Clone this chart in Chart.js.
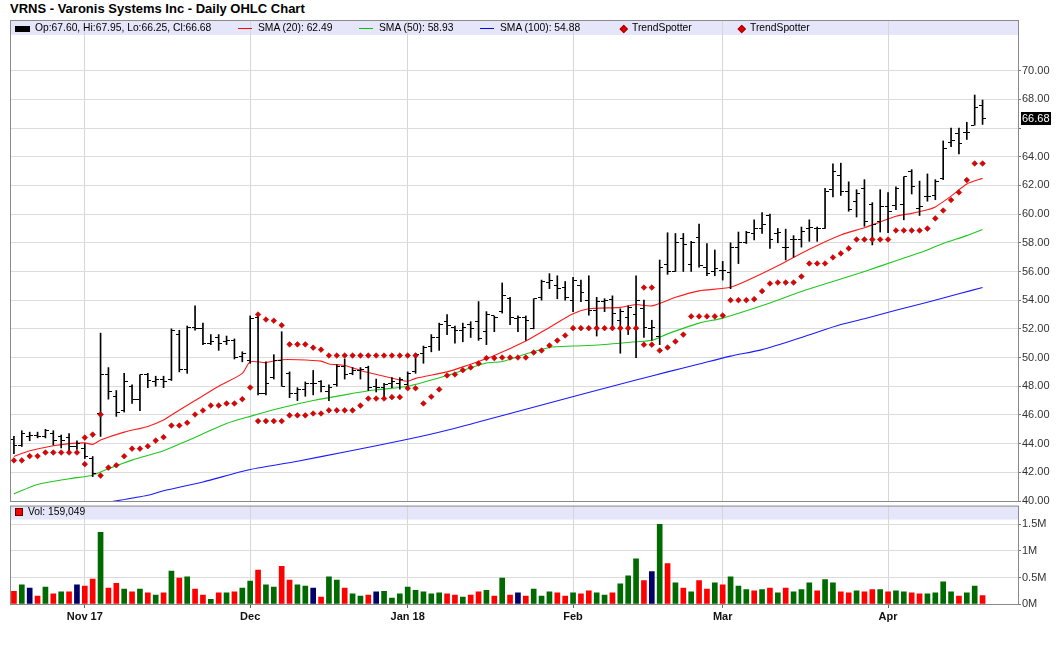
<!DOCTYPE html>
<html><head><meta charset="utf-8">
<script src="https://cdn.jsdelivr.net/npm/chart.js@4.4.1/dist/chart.umd.min.js"></script>
<style>
html,body{margin:0;padding:0;background:#fff;}
body{width:1060px;height:645px;position:relative;overflow:hidden;font-family:"Liberation Sans",Arial,sans-serif;}
#title{position:absolute;left:10px;top:2px;font-weight:bold;font-size:13px;line-height:13px;color:#000;white-space:nowrap;}
canvas{position:absolute;left:0;}
#pc{top:0;}
#vc{top:498px;}
.lg{position:absolute;font-size:10.3px;line-height:10.3px;color:#000;white-space:nowrap;z-index:5;}
.sw{position:absolute;z-index:5;}
</style>
</head><body>
<div id="title">VRNS - Varonis Systems Inc - Daily OHLC Chart</div>
<canvas id="pc" width="1060" height="512"></canvas>
<canvas id="vc" width="1060" height="147"></canvas>

<div class="sw" style="left:15px;top:26px;width:15px;height:6px;background:#000;"></div>
<div class="lg" style="left:35px;top:23px;">Op:67.60, Hi:67.95, Lo:66.25, Cl:66.68</div>
<div class="sw" style="left:238px;top:28px;width:14px;height:1px;background:#ff0000;"></div>
<div class="lg" style="left:258px;top:23px;">SMA (20): 62.49</div>
<div class="sw" style="left:359px;top:28px;width:14px;height:1px;background:#00c000;"></div>
<div class="lg" style="left:379px;top:23px;">SMA (50): 58.93</div>
<div class="sw" style="left:480px;top:28px;width:14px;height:1px;background:#0000ff;"></div>
<div class="lg" style="left:500px;top:23px;">SMA (100): 54.88</div>
<div class="sw" style="left:620.5px;top:26px;width:3.5px;height:3.5px;background:#e00000;border:0.6px solid #a00000;transform:rotate(45deg);"></div>
<div class="lg" style="left:632px;top:23px;">TrendSpotter</div>
<div class="sw" style="left:738.5px;top:26px;width:3.5px;height:3.5px;background:#e00000;border:0.6px solid #a00000;transform:rotate(45deg);"></div>
<div class="lg" style="left:750px;top:23px;">TrendSpotter</div>

<div class="sw" style="left:15px;top:508px;width:6px;height:6px;background:#ff0000;border:1px solid #600000;"></div>
<div class="lg" style="left:28px;top:507px;">Vol: 159,049</div>

<script>
// ---------- DATA ----------
const dates = [
'2017-10-19','2017-10-20','2017-10-23','2017-10-24','2017-10-25','2017-10-26','2017-10-27','2017-10-30','2017-10-31',
'2017-11-01','2017-11-02','2017-11-03','2017-11-06','2017-11-07','2017-11-08','2017-11-09','2017-11-10','2017-11-13','2017-11-14','2017-11-15','2017-11-16','2017-11-17','2017-11-20','2017-11-21','2017-11-22','2017-11-24','2017-11-27','2017-11-28','2017-11-29','2017-11-30',
'2017-12-01','2017-12-04','2017-12-05','2017-12-06','2017-12-07','2017-12-08','2017-12-11','2017-12-12','2017-12-13','2017-12-14','2017-12-15','2017-12-18','2017-12-19','2017-12-20','2017-12-21','2017-12-22','2017-12-26','2017-12-27','2017-12-28','2017-12-29',
'2018-01-02','2018-01-03','2018-01-04','2018-01-05','2018-01-08','2018-01-09','2018-01-10','2018-01-11','2018-01-12','2018-01-16','2018-01-17','2018-01-18','2018-01-19','2018-01-22','2018-01-23','2018-01-24','2018-01-25','2018-01-26','2018-01-29','2018-01-30','2018-01-31',
'2018-02-01','2018-02-02','2018-02-05','2018-02-06','2018-02-07','2018-02-08','2018-02-09','2018-02-12','2018-02-13','2018-02-14','2018-02-15','2018-02-16','2018-02-20','2018-02-21','2018-02-22','2018-02-23','2018-02-26','2018-02-27','2018-02-28',
'2018-03-01','2018-03-02','2018-03-05','2018-03-06','2018-03-07','2018-03-08','2018-03-09','2018-03-12','2018-03-13','2018-03-14','2018-03-15','2018-03-16','2018-03-19','2018-03-20','2018-03-21','2018-03-22','2018-03-23','2018-03-26','2018-03-27','2018-03-28','2018-03-29',
'2018-04-02','2018-04-03','2018-04-04','2018-04-05','2018-04-06','2018-04-09','2018-04-10','2018-04-11','2018-04-12','2018-04-13','2018-04-16','2018-04-17','2018-04-18'
];
const futureDates = ['2018-04-19','2018-04-20','2018-04-23','2018-04-24'];
const tickDates = ['2017-11-01','2017-12-01','2018-01-02','2018-02-01','2018-03-01','2018-04-02'];
const tickTexts = ['Nov 17','Dec','Jan 18','Feb','Mar','Apr'];

const open = [
44.3,43.9,44.5,44.6,44.5,44.7,44.5,44.4,43.8,43.66,
42.96,46.1,48.8,47.3,46.3,48.0,47.1,48.8,48.3,48.5,
48.5,51.6,49.2,52.1,52.0,51.0,51.4,51.1,51.2,50.05,
49.8,52.8,47.5,48.6,49.8,48.9,47.5,47.8,48.2,48.3,
47.6,48.1,49.4,48.9,49.1,49.3,48.0,47.9,48.2,48.2,
48.1,49.0,50.3,50.75,51.4,52.5,52.1,51.9,52.3,52.5,
51.8,52.9,53.2,54.1,52.7,52.8,52.0,54.2,55.2,55.0,
54.9,54.0,55.0,54.0,53.3,53.9,54.05,52.6,52.8,53.0,
53.4,52.0,51.5,56.5,56.0,58.3,56.5,58.4,56.3,56.0,
56.1,55.9,57.65,58.05,58.65,59.0,59.9,58.65,57.7,58.2,
58.2,59.0,59.0,59.0,61.7,62.7,61.55,60.85,61.8,60.7,
59.5,60.5,60.6,60.7,63.0,60.4,61.2,61.3,62.5,65.0,
65.6,65.7,66.2,67.6];
const high = [
44.5,44.9,44.8,44.8,45.0,44.9,44.6,44.7,44.2,44.0,
43.1,51.7,49.3,47.7,48.9,48.1,48.8,48.9,48.7,48.7,
52.0,51.9,52.2,53.6,52.4,51.6,51.6,51.5,51.3,50.4,
52.9,53.1,49.7,50.2,51.8,49.0,47.9,48.3,49.1,48.4,
48.1,49.5,49.9,49.3,49.3,49.4,48.5,48.2,48.6,48.6,
49.0,50.3,50.8,51.6,52.4,53.0,52.2,52.4,52.5,53.9,
53.2,52.9,55.2,54.2,52.9,52.9,54.1,55.4,55.85,55.7,
55.3,55.6,55.4,55.7,54.2,54.1,54.3,53.4,53.6,55.7,
54.0,52.6,56.8,58.7,58.65,58.65,58.1,59.3,57.95,57.5,
56.7,58.0,58.75,58.8,59.6,60.1,60.0,59.0,58.95,58.5,
59.1,59.6,59.1,61.8,63.5,63.55,62.25,61.7,62.4,60.8,
61.7,61.5,61.9,62.6,63.1,62.3,62.8,62.4,65.1,66.0,
66.0,66.4,68.3,67.95];
const low = [
43.3,43.8,44.2,44.4,44.4,43.9,43.7,43.5,43.6,42.96,
41.7,44.5,47.1,45.9,46.2,46.8,46.3,47.9,48.0,47.9,
48.4,49.0,48.9,51.9,50.9,50.9,50.5,50.9,49.9,49.7,
49.6,47.4,47.4,48.5,48.0,47.2,47.0,47.3,47.4,47.6,
47.0,48.0,48.5,48.8,48.5,47.7,47.6,47.2,47.9,47.8,
47.9,48.9,49.6,50.4,50.5,51.6,51.0,51.1,51.4,51.2,
50.9,51.8,53.1,52.3,51.8,51.2,52.0,54.0,54.8,54.1,
54.0,53.2,53.9,52.95,51.5,53.2,52.1,50.3,51.6,50.0,
51.4,51.2,50.9,55.8,56.0,56.0,56.0,56.3,55.7,55.7,
55.4,54.8,56.55,57.95,58.2,58.65,57.6,58.0,56.8,57.0,
57.7,58.1,58.1,59.0,61.2,61.3,60.2,59.8,59.15,57.85,
58.75,58.7,60.3,59.6,61.4,59.9,60.9,61.0,62.4,64.7,
64.2,65.2,66.2,66.25];
const close = [
43.9,44.7,44.6,44.5,44.9,44.2,44.2,43.8,44.0,43.1,
41.9,48.8,47.6,46.2,48.3,47.1,48.8,48.4,48.5,48.3,
51.9,49.2,52.1,52.0,51.0,51.1,51.0,51.2,50.0,50.3,
52.7,47.5,48.2,49.8,48.0,47.5,47.8,48.2,48.2,48.0,
47.9,49.4,48.8,49.1,49.2,47.9,47.9,48.1,48.3,48.5,
48.9,50.2,50.7,51.4,52.3,52.2,51.9,52.1,52.0,51.3,
53.0,52.8,54.3,52.8,52.8,52.6,54.1,55.3,55.4,54.8,
54.2,55.4,54.5,53.3,53.9,54.0,53.1,53.2,53.5,54.0,
52.1,52.1,56.3,56.0,58.0,57.9,58.0,56.4,55.85,56.2,
56.05,57.65,58.05,58.75,59.0,59.3,58.2,58.7,57.7,58.2,
58.8,59.05,59.0,61.55,63.0,61.55,60.3,61.45,59.5,59.3,
60.55,60.15,61.8,62.6,61.9,60.5,61.2,62.3,64.6,65.1,
64.9,65.7,67.4,66.68];

// volume in millions of shares
const volume = [
0.24,0.36,0.30,0.15,0.32,0.19,0.23,0.23,0.36,0.34,
0.47,1.35,0.30,0.39,0.28,0.23,0.28,0.21,0.17,0.21,
0.62,0.49,0.51,0.28,0.17,0.09,0.21,0.21,0.23,0.30,
0.43,0.64,0.36,0.32,0.71,0.45,0.36,0.34,0.30,0.13,
0.51,0.45,0.30,0.19,0.15,0.17,0.23,0.24,0.11,0.19,
0.32,0.26,0.23,0.19,0.21,0.19,0.17,0.13,0.17,0.23,
0.26,0.15,0.49,0.17,0.21,0.15,0.28,0.15,0.23,0.21,
0.15,0.21,0.19,0.25,0.21,0.17,0.21,0.38,0.53,0.85,
0.44,0.61,1.50,0.76,0.40,0.30,0.23,0.44,0.28,0.40,
0.36,0.51,0.34,0.27,0.25,0.27,0.30,0.21,0.30,0.23,
0.27,0.40,0.25,0.46,0.40,0.23,0.21,0.25,0.23,0.27,
0.27,0.23,0.25,0.23,0.21,0.19,0.19,0.21,0.42,0.23,
0.15,0.21,0.34,0.159049];
// u = up day, d = down day, n = unchanged
const volDir = ('dundududnd'+'duddududud'+'ududdududu'+'uduudduund'+'uuduudnuuu'+
  'uuuuuddudd'+'ududnduuud'+'dudduuduuu'+'dnudududdu'+'duuudududu'+
  'uuduuddudd'+'uduudduuuu'+'duud').split('');

// moving averages: [bar index, value]
const sma20 = [[0,43.1],[2,43.5],[5,43.85],[7,44.0],[9,44.05],[10,43.95],[11,44.25],[14,44.8],[17,45.2],[19,45.65],[20,46.0],[23,47.0],[26,48.0],[29,48.9],[30,49.7],[32,49.65],[34,49.85],[36,49.85],[39,49.75],[40,49.55],[42,49.45],[44,49.1],[47,48.7],[50,48.35],[51,48.55],[55,49.0],[57,49.35],[61,50.15],[65,51.15],[68,52.1],[71,53.05],[73,53.4],[77,53.5],[79,53.7],[81,53.6],[84,54.2],[87,54.65],[91,54.9],[94,55.6],[97,56.4],[101,57.55],[105,58.55],[108,59.05],[110,59.45],[112,59.85],[114,60.05],[116,60.3],[117,60.5],[119,61.25],[121,62.1],[123,62.49]];
const sma50 = [[0,40.5],[3,41.15],[7,41.55],[10,41.8],[12,42.25],[15,42.85],[19,43.5],[22,44.2],[27,45.4],[30,45.9],[34,46.5],[38,47.0],[42,47.4],[46,47.75],[50,48.0],[55,48.75],[60,49.62],[62,49.72],[65,50.25],[68,50.7],[71,50.8],[74,50.87],[79,51.1],[81,51.2],[83,51.65],[87,52.4],[90,52.75],[96,53.8],[100,54.6],[104,55.3],[108,56.0],[112,56.75],[115,57.3],[118,57.95],[121,58.5],[123,58.93]];
const sma100 = [[10,39.7],[11,39.82],[17,40.4],[19,40.71],[24,41.33],[30,42.19],[36,42.77],[42,43.42],[50,44.3],[55,44.93],[63,46.1],[72,47.42],[79,48.43],[83,49.0],[87,49.55],[91,50.1],[95,50.55],[100,51.4],[105,52.3],[108,52.7],[112,53.3],[116,53.85],[120,54.45],[123,54.88]];

// TrendSpotter signals: [bar index, value]
const tsUpper = [[9,44.42],[10,44.63],[11,46.03],[31,53.0],[32,52.65],[33,52.57],[34,52.25],[35,50.92],[36,50.92],[37,50.92],[38,50.69],[39,50.55],[40,50.14],[41,50.14],[42,50.14],[43,50.14],[44,50.14],[45,50.14],[46,50.14],[47,50.14],[48,50.14],[49,50.14],[50,50.14],[51,50.14],[80,54.88],[81,54.88]];
const tsLower = [[0,42.83],[1,42.83],[2,43.13],[3,43.13],[4,43.38],[5,43.38],[6,43.38],[7,43.38],[8,43.38],[9,42.57],[11,41.77],[12,42.33],[13,42.49],[14,43.12],[15,43.65],[16,43.65],[17,43.82],[18,44.21],[19,44.45],[20,45.26],[21,45.26],[22,45.45],[23,46.03],[24,46.31],[25,46.66],[26,46.66],[27,46.8],[28,46.8],[29,47.1],[30,47.91],[31,45.57],[32,45.57],[33,45.57],[34,45.57],[35,45.97],[36,45.97],[37,45.97],[38,46.1],[39,46.1],[40,46.32],[41,46.32],[42,46.32],[43,46.32],[44,46.65],[45,47.14],[46,47.14],[47,47.14],[48,47.24],[49,47.24],[50,47.86],[51,47.86],[52,46.8],[53,47.27],[54,47.78],[55,48.75],[56,48.82],[57,49.12],[58,49.31],[59,49.59],[60,49.96],[61,49.96],[62,50.0],[63,50.0],[64,50.0],[65,50.0],[66,50.35],[67,50.49],[68,50.84],[69,51.19],[70,51.54],[71,52.05],[72,52.05],[73,52.05],[74,52.05],[75,52.05],[76,52.05],[77,52.05],[78,52.05],[79,52.05],[80,50.9],[81,50.9],[82,50.49],[83,50.7],[84,51.12],[85,51.6],[86,52.87],[87,52.87],[88,52.87],[89,52.87],[90,52.93],[91,54.0],[92,54.0],[93,54.0],[94,54.07],[95,54.63],[96,55.16],[97,55.23],[98,55.23],[99,55.23],[100,55.65],[101,56.56],[102,56.56],[103,56.56],[104,56.98],[105,57.26],[106,57.61],[107,58.23],[108,58.23],[109,58.23],[110,58.23],[111,58.23],[112,58.86],[113,58.86],[114,58.86],[115,58.86],[116,58.99],[117,59.7],[118,60.25],[119,60.98],[120,61.51],[121,62.37],[122,63.53],[123,63.53]];

// ---------- CHART ----------
const FONT = '"Liberation Sans", Arial, sans-serif';
Chart.defaults.font.family = FONT;
Chart.defaults.font.size = 11;
Chart.defaults.color = '#333';
Chart.defaults.animation = false;

const allLabels = dates.concat(futureDates);
const monthIdx = new Set(tickDates.map(d => allLabels.indexOf(d)));
const toPts = arr => arr.map(([i, v]) => ({x: dates[i], y: v}));
const lastClose = close[close.length - 1];

function tickImg(side) {
  const c = document.createElement('canvas');
  c.width = 7; c.height = 1;
  const g = c.getContext('2d');
  g.fillStyle = '#000';
  g.fillRect(side === 'left' ? 0 : 4, 0, 3, 1);
  return c;
}
const openTick = tickImg('left');
const closeTick = tickImg('right');

const panelPlugin = {
  id: 'panel',
  beforeDraw(chart, args, o) {
    const {ctx, chartArea: a} = chart;
    ctx.save();
    ctx.fillStyle = '#e6e6fa';
    ctx.fillRect(a.left, a.top, a.right - a.left, o.strip);
    ctx.restore();
  },
  beforeDatasetsDraw(chart) { chart.ctx.imageSmoothingEnabled = false; },
  afterDraw(chart, args, o) {
    const {ctx, chartArea: a} = chart;
    ctx.save();
    ctx.strokeStyle = '#8a8a8a';
    ctx.lineWidth = 1;
    ctx.strokeRect(a.left + 0.5, a.top + 0.5, a.right - a.left, a.bottom - a.top);
    if (o.lastTag) {
      const y = chart.scales.y.getPixelForValue(lastClose);
      ctx.fillStyle = '#000';
      ctx.fillRect(a.right + 3, Math.round(y) - 6, 30, 13);
      ctx.fillStyle = '#fff';
      ctx.font = '11px ' + FONT;
      ctx.textBaseline = 'middle';
      ctx.textAlign = 'left';
      ctx.fillText(lastClose.toFixed(2), a.right + 4, Math.round(y) + 0.5);
    }
    ctx.restore();
  }
};

const xGrid = {
  offset: false,
  color: c => monthIdx.has(c.index) ? '#d6d6d6' : 'rgba(0,0,0,0)',
  tickColor: c => monthIdx.has(c.index) ? '#666' : 'rgba(0,0,0,0)',
  lineWidth: 1
};

new Chart(document.getElementById('pc'), {
  type: 'bar',
  data: {
    labels: allLabels,
    datasets: [
      {type: 'bar', label: 'High-Low', data: dates.map((d, i) => [low[i], high[i]]),
       backgroundColor: '#000', barThickness: 1, order: 3},
      {type: 'line', label: 'Open', data: open, showLine: false, pointStyle: openTick, pointRadius: 3, order: 2},
      {type: 'line', label: 'Close', data: close, showLine: false, pointStyle: closeTick, pointRadius: 3, order: 2},
      {type: 'line', label: 'SMA (20)', data: toPts(sma20), borderColor: '#ff1a1a', borderWidth: 1.1, pointRadius: 0, tension: 0.25, order: 5},
      {type: 'line', label: 'SMA (50)', data: toPts(sma50), borderColor: '#1ec81e', borderWidth: 1.1, pointRadius: 0, tension: 0.25, order: 5},
      {type: 'line', label: 'SMA (100)', data: toPts(sma100), borderColor: '#1a1aff', borderWidth: 1.1, pointRadius: 0, tension: 0.25, order: 5},
      {type: 'line', label: 'TrendSpotter', data: toPts(tsUpper), showLine: false, pointStyle: 'rectRot', pointRadius: 2.8,
       backgroundColor: '#e00000', borderColor: '#a00000', borderWidth: 0.6, order: 1},
      {type: 'line', label: 'TrendSpotter', data: toPts(tsLower), showLine: false, pointStyle: 'rectRot', pointRadius: 2.8,
       backgroundColor: '#e00000', borderColor: '#a00000', borderWidth: 0.6, order: 1}
    ]
  },
  options: {
    responsive: false,
    events: [],
    layout: {padding: {left: 10, top: 20, right: 0, bottom: 11}},
    plugins: {legend: {display: false}, tooltip: {enabled: false}, panel: {strip: 15, lastTag: true}},
    scales: {
      x: {type: 'category', offset: true, grid: Object.assign({drawTicks: false}, xGrid),
          ticks: {display: false, autoSkip: false}, border: {display: false},
          afterFit: s => { s.height = 0; }},
      y: {position: 'right', min: 40, max: 73.53,
          afterBuildTicks: s => { s.ticks = s.ticks.filter(t => t.value <= 70.001 && Math.abs(t.value / 2 - Math.round(t.value / 2)) < 1e-6); },
          ticks: {stepSize: 2, padding: 1, color: '#333', font: {size: 11},
                  callback: v => Math.abs(v - lastClose) < 0.9 ? '' : v.toFixed(2)},
          grid: {color: '#dcdcdc', tickColor: '#777', tickLength: 3},
          border: {display: false},
          afterFit: s => { s.width = 42; }}
    }
  },
  plugins: [panelPlugin]
});

const dirColor = {u: '#006a00', d: '#ff0000', n: '#000066'};
new Chart(document.getElementById('vc'), {
  type: 'bar',
  data: {
    labels: allLabels,
    datasets: [{label: 'Vol', data: volume, backgroundColor: volDir.map(d => dirColor[d]), barThickness: 5}]
  },
  options: {
    responsive: false,
    events: [],
    layout: {padding: {left: 10, top: 7, right: 0, bottom: 11}},
    plugins: {legend: {display: false}, tooltip: {enabled: false}, panel: {strip: 14, lastTag: false}},
    scales: {
      x: {type: 'category', offset: true, grid: Object.assign({drawTicks: true, tickLength: 4}, xGrid),
          ticks: {autoSkip: false, maxRotation: 0, padding: 2, color: '#111', font: {size: 11, weight: 'bold'},
                  callback: (v, i) => { const k = tickDates.indexOf(allLabels[i]); return k >= 0 ? tickTexts[k] : ''; }},
          border: {display: false},
          afterFit: s => { s.height = 30; }},
      y: {position: 'right', min: 0, max: 1.855,
          afterBuildTicks: s => { s.ticks = [0, 0.5, 1, 1.5].map(v => ({value: v})); },
          ticks: {padding: 1, color: '#333', font: {size: 11}, callback: v => v === 0 ? '0M' : v + 'M'},
          grid: {color: '#dcdcdc', tickColor: '#777', tickLength: 3},
          border: {display: false},
          afterFit: s => { s.width = 42; }}
    }
  },
  plugins: [panelPlugin]
});
</script>
</body></html>
